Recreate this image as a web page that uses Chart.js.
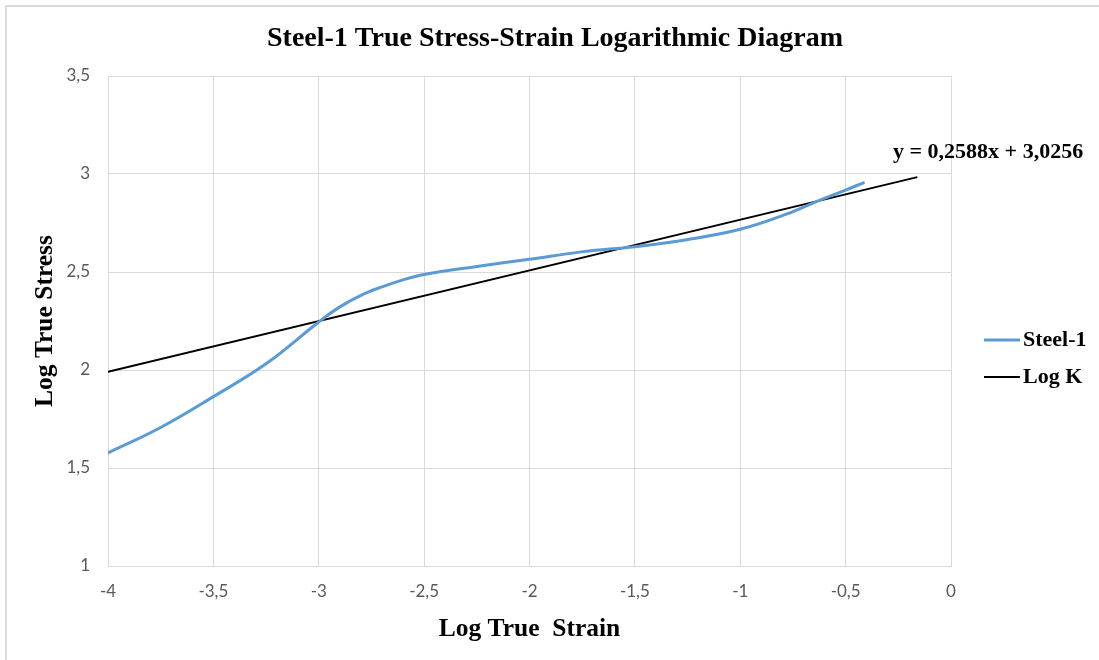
<!DOCTYPE html>
<html>
<head>
<meta charset="utf-8">
<title>Steel-1 True Stress-Strain Logarithmic Diagram</title>
<script src="https://cdn.jsdelivr.net/npm/chart.js@4/dist/chart.umd.min.js"></script>
<style>
  html, body { margin: 0; padding: 0; background: #ffffff; }
  #wrap { position: relative; width: 1099px; height: 660px; }
  #frame {
    position: absolute; left: 5px; top: 5px; right: 0; bottom: 0;
    border-left: 2px solid #d9d9d9; border-top: 2px solid #d9d9d9;
    pointer-events: none;
  }
  canvas { position: absolute; left: 0; top: 0; }
</style>
</head>
<body>
<div id="wrap">
  <div id="frame"></div>
  <canvas id="chart" width="1099" height="660"></canvas>
</div>
<script>
// Measured curve: log true strain vs log true stress
const logStrain = [-4, -3.755, -3.5, -3.247, -3, -2.9, -2.8, -2.7, -2.6, -2.5, -2.25,
                   -2, -1.745, -1.5, -1.254, -1, -0.781, -0.622, -0.5, -0.416];
const logStress = [1.577, 1.704, 1.864, 2.034, 2.245, 2.322, 2.381, 2.424, 2.46, 2.487, 2.528,
                   2.565, 2.604, 2.629, 2.665, 2.718, 2.795, 2.867, 2.918, 2.955];

// Linear fit (Log K): y = slope * x + intercept
const fitSlope = 0.2588;
const fitIntercept = 3.0256;
const fitRange = [-4, -0.16];

const seriesNames = ['Steel-1', 'Log K'];
const xTicks = [-4, -3.5, -3, -2.5, -2, -1.5, -1, -0.5, 0];
const yTicks = [1, 1.5, 2, 2.5, 3, 3.5];

const titleText = 'Steel-1 True Stress-Strain Logarithmic Diagram';
const xTitle = 'Log True  Strain';
const yTitle = 'Log True Stress';

const fmt = v => String(v).replace('.', ',');
const equationText = 'y = ' + fmt(fitSlope) + 'x + ' + fmt(fitIntercept);

const steelPoints = logStrain.map((x, i) => ({ x: x, y: logStress[i] }));
const fitPoints = fitRange.map(x => ({ x: x, y: fitSlope * x + fitIntercept }));

const serif = '"Liberation Serif", "Times New Roman", serif';

// Chart title, legend on the right and the trendline equation label
const annotations = {
  id: 'annotations',
  afterDatasetsDraw(chart) {
    const { ctx, chartArea, scales } = chart;
    ctx.save();
    ctx.fillStyle = '#000000';
    ctx.textBaseline = 'middle';

    // title, centred on the whole chart
    ctx.font = 'bold 28px ' + serif;
    ctx.textAlign = 'center';
    ctx.fillText(titleText, 555, 39);

    ctx.font = 'bold 22px ' + serif;

    // equation next to the end of the fitted line
    ctx.textAlign = 'center';
    ctx.fillText(equationText, scales.x.getPixelForValue(0.176), scales.y.getPixelForValue(3.112));

    // legend
    const midY = (chartArea.top + chartArea.bottom) / 2;
    const rows = [midY + 19, midY + 56];
    chart.data.datasets.forEach((ds, i) => {
      const y = rows[i];
      ctx.beginPath();
      ctx.strokeStyle = ds.borderColor;
      ctx.lineWidth = ds.borderWidth;
      ctx.moveTo(984, y);
      ctx.lineTo(1020, y);
      ctx.stroke();
      ctx.textAlign = 'left';
      ctx.fillText(ds.label, 1023, y);
    });
    ctx.restore();
  }
};

new Chart(document.getElementById('chart'), {
  type: 'scatter',
  data: {
    datasets: [
      {
        label: seriesNames[0],
        data: steelPoints,
        showLine: true,
        borderColor: '#5b9bd5',
        borderWidth: 3,
        pointRadius: 0,
        tension: 0.4,
        borderCapStyle: 'round'
      },
      {
        label: seriesNames[1],
        data: fitPoints,
        showLine: true,
        borderColor: '#000000',
        borderWidth: 2,
        pointRadius: 0
      }
    ]
  },
  options: {
    responsive: false,
    animation: false,
    layout: { padding: { left: 0, right: 148, top: 76, bottom: 0 } },
    plugins: {
      legend: { display: false },
      tooltip: { enabled: false },
      title: { display: false }
    },
    scales: {
      x: {
        type: 'linear',
        min: xTicks[0],
        max: xTicks[xTicks.length - 1],
        afterBuildTicks: s => { s.ticks = xTicks.map(v => ({ value: v })); },
        afterFit: s => { s.height = 94; },
        ticks: {
          callback: v => fmt(v),
          color: '#595959',
          font: { family: 'Lato', size: 17 },
          padding: 15,
          maxRotation: 0
        },
        grid: { color: '#d9d9d9', lineWidth: 1, drawTicks: false },
        border: { display: true, color: '#d9d9d9' },
        title: {
          display: true,
          text: xTitle,
          color: '#000000',
          font: { family: serif, size: 25.5, weight: 'bold' },
          padding: { top: 4, bottom: 15 }
        }
      },
      y: {
        type: 'linear',
        min: yTicks[0],
        max: yTicks[yTicks.length - 1],
        afterBuildTicks: s => { s.ticks = yTicks.map(v => ({ value: v })); },
        afterFit: s => { s.width = 108; },
        ticks: {
          callback: v => fmt(v),
          color: '#595959',
          font: { family: 'Lato', size: 17 },
          padding: 18
        },
        grid: { color: '#d9d9d9', lineWidth: 1, drawTicks: false },
        border: { display: true, color: '#d9d9d9' },
        title: {
          display: true,
          text: yTitle,
          color: '#000000',
          font: { family: serif, size: 25.5, weight: 'bold' },
          padding: { top: 30, bottom: 4 }
        }
      }
    }
  },
  plugins: [annotations]
});
</script>
</body>
</html>
